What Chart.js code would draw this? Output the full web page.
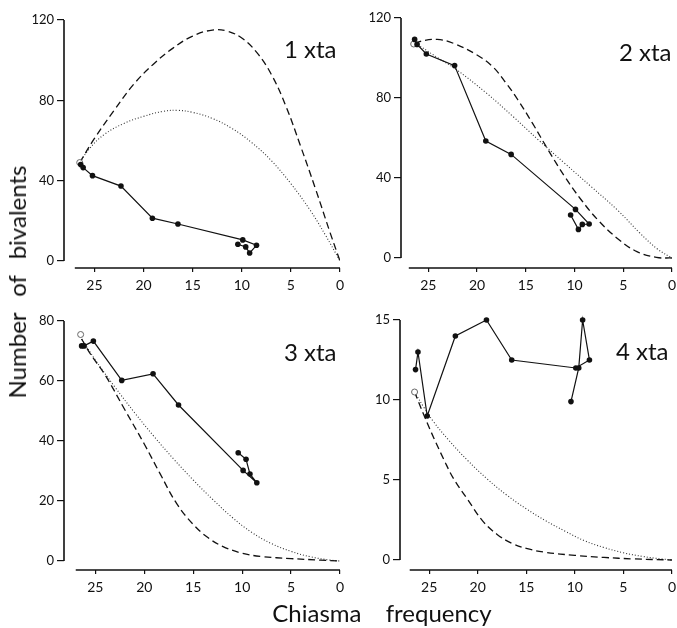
<!DOCTYPE html>
<html>
<head>
<meta charset="utf-8">
<script src="https://cdn.jsdelivr.net/npm/chart.js@4.4.0/dist/chart.umd.min.js"></script>
<style>
html,body{margin:0;padding:0;background:#fff;}
#wrap{position:relative;width:677px;height:628px;overflow:hidden;font-family:Lato, "DejaVu Sans", sans-serif;color:#111;}
canvas{position:absolute;}
.lab{position:absolute;font-size:24px;line-height:24px;white-space:pre;color:#111;}
#ytitle{position:absolute;left:17px;top:282px;font-size:24px;line-height:24px;white-space:pre;transform:translate(-50%,-50%) rotate(-90deg);word-spacing:10px;}
#xtitle{position:absolute;left:382px;top:613px;font-size:24px;line-height:24px;white-space:pre;transform:translate(-50%,-50%);word-spacing:18px;}
</style>
</head>
<body>
<div id="wrap">
  <canvas id="c1" width="345" height="300" style="left:0;top:0"></canvas>
  <canvas id="c2" width="339" height="300" style="left:338px;top:0"></canvas>
  <canvas id="c3" width="345" height="338" style="left:0;top:290px"></canvas>
  <canvas id="c4" width="339" height="338" style="left:338px;top:290px"></canvas>
  <div class="lab" id="l1" style="left:284px;top:37px"></div>
  <div class="lab" id="l2" style="left:619px;top:40px"></div>
  <div class="lab" id="l3" style="left:284px;top:340px"></div>
  <div class="lab" id="l4" style="left:616px;top:339px"></div>
  <div id="ytitle"></div>
  <div id="xtitle"></div>
</div>
<script>
// ---------------- DATA ----------------
const yTitle = "Number of bivalents";
const xTitle = "Chiasma frequency";
const panelLabels = ["1 xta", "2 xta", "3 xta", "4 xta"];

const xTicks = [0, 5, 10, 15, 20, 25];
const yTicks1 = [0, 40, 80, 120];
const yTicks2 = [0, 40, 80, 120];
const yTicks3 = [0, 20, 40, 60, 80];
const yTicks4 = [0, 5, 10, 15];

// observed chiasma frequency (same stages in every panel)
const chiasma = [26.4, 26.15, 25.2, 22.3, 19.1, 16.5, 9.9, 8.5, 9.2, 9.6, 10.4];
const openChiasma = 26.5;

// observed bivalent numbers (filled points)
const obs1 = [48, 46.5, 42.5, 37.3, 21.3, 18.4, 10.5, 7.8, 4, 7, 8.3];
const obs2 = [109.3, 106.8, 102, 96.2, 58.5, 51.8, 24.3, 17, 16.8, 14.3, 21.5];
const obs3 = [71.7, 71.7, 73.3, 60.2, 62.4, 52, 30.2, 26.1, 29, 33.9, 36.1];
const obs4 = [11.9, 13, 9, 14, 15, 12.5, 12, 12.5, 15, 12, 9.9];

// open circle (starting value)
const open1 = 49;
const open2 = 107;
const open3 = 75.5;
const open4 = 10.5;

// expected curves [chiasma, bivalents]
const dashed1 = [[26.5,49],[25,61],[23,75],[21,88],[19,98],[17,106],[15,112],[13,115],[11.5,114.5],[10,111],[8.5,104],[7,93],[5.5,77],[4,57],[2.5,36],[1,14],[0,0]];
const dotted1 = [[26.5,49],[25.5,56],[24,63],[22,68.5],[20,72],[18,74.5],[16.5,75],[15,74],[13,71],[11,66],[9,59],[7,50],[5,38.5],[3,25],[1.5,13],[0,0]];
const dashed2 = [[26.4,107],[25.9,108.2],[24.1,109.3],[22.4,107.3],[20.0,101.5],[18.4,95.7],[17.0,87.3],[15.8,79],[14.3,67.3],[12.7,54],[11.0,40.7],[9.3,29],[7.6,19],[5.6,9.8],[3.6,3.2],[1.6,0.3],[0,0]];
const dotted2 = [[26.4,107],[25.9,106],[24,100],[22.2,94.5],[19,82.3],[16.3,70.7],[13.7,59],[11,47.3],[8.3,35.7],[5.6,24],[3.3,12.5],[1.5,4.5],[0,0]];
const dashed3 = [[26.4,74],[25.5,69],[24,62],[22,50.5],[20,39],[18.4,29.2],[16.7,19.2],[15,12.2],[13.5,7.8],[12,4.9],[10,2.6],[8,1.5],[5,0.8],[2,0.3],[0,0]];
const dotted3 = [[26.4,74],[25,67],[23,58],[21,49.5],[19,41.5],[17,34],[15,27],[13,20.5],[11,14.5],[9,9.5],[7,5.8],[5,3.2],[3,1.4],[1,0.3],[0,0]];
const dashed4 = [[26.5,10.5],[25.5,9.0],[24.5,7.6],[23.5,6.3],[22.5,5.1],[21,3.75],[19.5,2.45],[18,1.6],[16.5,1.05],[15,0.72],[13,0.48],[10,0.29],[7,0.16],[4,0.07],[0,0]];
const dotted4 = [[26.5,10.5],[25.5,9.5],[24.5,8.6],[23,7.5],[21,6.2],[19,5.05],[17,4.05],[15,3.2],[13,2.45],[11,1.8],[9,1.2],[7,0.78],[5,0.45],[3,0.22],[1,0.06],[0,0]];

// ---------------- LAYOUT ----------------
const layouts = [
  {id:'c1', yW:64, xH:32, padTop:20, padRight:3.5, xMax:28.1, yMin:-3.5, yMax:120},
  {id:'c2', yW:63, xH:32, padTop:18, padRight:0,   xMax:27.8, yMin:-5,   yMax:120},
  {id:'c3', yW:64, xH:58, padTop:31, padRight:3.3, xMax:28.2, yMin:-3,   yMax:80},
  {id:'c4', yW:62, xH:58, padTop:30, padRight:2.6, xMax:28.0, yMin:-0.625, yMax:15}
];

document.getElementById('ytitle').textContent = yTitle;
document.getElementById('xtitle').textContent = xTitle;
panelLabels.forEach((t,i)=>document.getElementById('l'+(i+1)).textContent = t);

const axisLines = {
  id: 'axisLines',
  afterDatasetsDraw(chart, args, opts) {
    const {ctx, chartArea, scales} = chart;
    const x = scales.x, y = scales.y;
    ctx.save();
    ctx.strokeStyle = '#111';
    ctx.lineWidth = 1.6;
    ctx.beginPath();
    ctx.moveTo(chartArea.left, y.getPixelForValue(opts.yTop));
    ctx.lineTo(chartArea.left, y.getPixelForValue(0));
    ctx.moveTo(x.getPixelForValue(opts.xStart), chartArea.bottom);
    ctx.lineTo(x.getPixelForValue(0), chartArea.bottom);
    ctx.stroke();
    ctx.restore();
  }
};

function makePanel(L, obs, open, dashed, dotted, yTicks) {
  const fontFam = 'Lato, "DejaVu Sans", sans-serif';
  return new Chart(document.getElementById(L.id), {
    type: 'scatter',
    data: {
      datasets: [
        { data: chiasma.map((c,i)=>({x:c, y:obs[i]})), showLine:true, borderColor:'#111', borderWidth:1.2,
          pointRadius:2.8, pointBackgroundColor:'#111', pointBorderWidth:0, pointHoverRadius:2.8, clip:false },
        { data: [{x:openChiasma, y:open}], showLine:false, pointRadius:3, pointBackgroundColor:'#fff',
          pointBorderColor:'#666', pointBorderWidth:1, clip:false },
        { data: dashed.map(p=>({x:p[0], y:p[1]})), showLine:true, borderColor:'#111', borderWidth:1.3,
          borderDash:[7,4], pointRadius:0, tension:0.4 },
        { data: dotted.map(p=>({x:p[0], y:p[1]})), showLine:true, borderColor:'#333', borderWidth:1.1,
          borderDash:[1,2], pointRadius:0, tension:0.4 }
      ]
    },
    options: {
      responsive:false, animation:false, devicePixelRatio:1,
      layout:{ padding:{ top:L.padTop, right:L.padRight, left:0, bottom:0 } },
      plugins:{ legend:{display:false}, tooltip:{enabled:false}, axisLines:{ yTop: yTicks[yTicks.length-1], xStart:27 } },
      scales:{
        x:{ type:'linear', reverse:true, min:0, max:L.xMax,
            afterBuildTicks: s => { s.ticks = xTicks.map(v=>({value:v})); },
            afterFit: s => { s.height = L.xH; s.paddingLeft = 0; s.paddingRight = 0; },
            grid:{ display:true, drawOnChartArea:false, drawTicks:true, tickLength:4, color:'#111', lineWidth:1.2 },
            border:{ display:false },
            ticks:{ font:{ family:fontFam, size:14 }, color:'#111', padding:5, maxRotation:0, autoSkip:false } },
        y:{ type:'linear', min:L.yMin, max:L.yMax,
            afterBuildTicks: s => { s.ticks = yTicks.map(v=>({value:v})); },
            afterFit: s => { s.width = L.yW; s.paddingTop = 0; s.paddingBottom = 0; },
            grid:{ display:true, drawOnChartArea:false, drawTicks:true, tickLength:7, color:'#111', lineWidth:1.2 },
            border:{ display:false },
            ticks:{ font:{ family:fontFam, size:13 }, color:'#111', padding:3, autoSkip:false } }
      }
    },
    plugins:[axisLines]
  });
}

makePanel(layouts[0], obs1, open1, dashed1, dotted1, yTicks1);
makePanel(layouts[1], obs2, open2, dashed2, dotted2, yTicks2);
makePanel(layouts[2], obs3, open3, dashed3, dotted3, yTicks3);
makePanel(layouts[3], obs4, open4, dashed4, dotted4, yTicks4);
</script>
</body>
</html>
